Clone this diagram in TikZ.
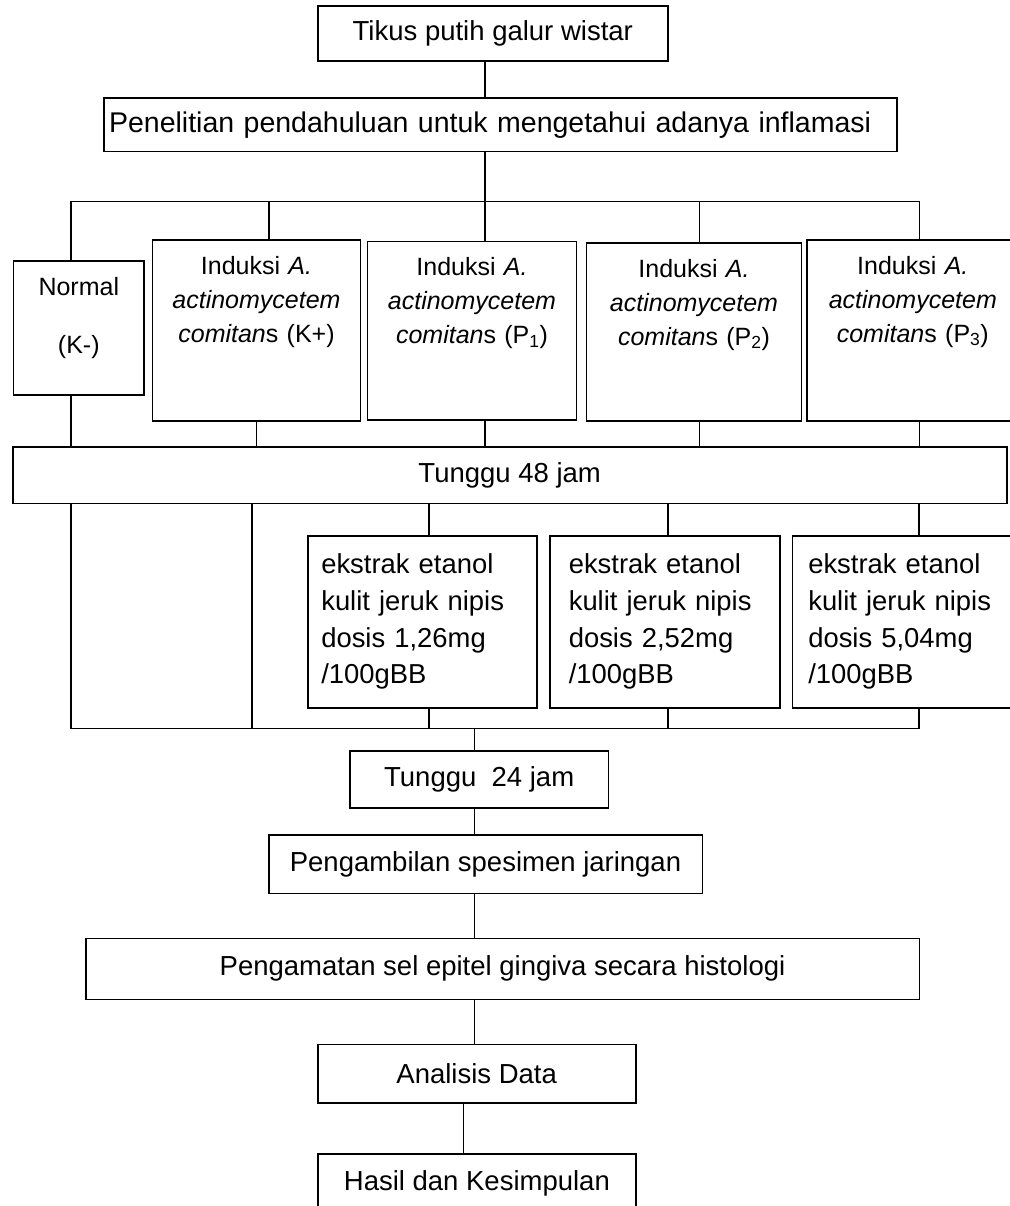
\documentclass[tikz,border=0pt]{standalone}
\usepackage{fontspec}
\setmainfont{Liberation Sans}
\usepackage{tikz}
\tikzstyle{block} = [rectangle, 
draw=black, 
line width=1.6pt,
inner sep=0pt,
text centered, 
font=\fontsize{27.5}{33}\selectfont]
\tikzstyle{group} = [rectangle, 
draw=black, 
line width=1.6pt,
anchor=north west,
inner sep=0pt,
align=center, 
text height=34pt,
font=\fontsize{25}{34}\selectfont]
\tikzstyle{dose} = [rectangle, 
draw=black, 
line width=1.6pt,
anchor=north west,
inner xsep=16pt, 
inner ysep=0pt,
align=left, 
text height=38pt,
text depth=134pt,
font=\fontsize{27.4}{36.7}\selectfont]
\tikzstyle{line} = [line width=1.6pt, line cap=rect]

\begin{document}
\begin{tikzpicture}[x=1pt, y=-1pt]
\useasboundingbox (0,0) rectangle (1009,1206);

\node (tikus) [block, minimum width=350pt, minimum height=55pt] at (492.8,33.5) {Tikus putih galur wistar};
\node (pen) [block, minimum width=792.7pt, minimum height=53.4pt, text width=782.7pt, inner xsep=5pt, align=left, font=\fontsize{28.5}{33}\selectfont] at (500.4,125) {Penelitian pendahuluan untuk mengetahui adanya inflamasi};

% groups
\node (normal) [group, text width=130.6pt, text height=34.5pt, text depth=99.5pt] at (12.7,260) {Normal\\[24.5pt](K-)};
\node (kplus) [group, text width=208pt, text depth=146.7pt] at (151.7,239.3) {Induksi \textit{A.}\\ \textit{actinomycetem}\\ \textit{comitan}s (K+)};
\node (pone) [group, text width=209pt, text depth=144.3pt] at (366.7,240.7) {Induksi \textit{A.}\\ \textit{actinomycetem}\\ \textit{comitan}s (P\textsubscript{1})};
\node (ptwo) [group, text width=215pt, text depth=143.7pt] at (585.7,242.3) {Induksi \textit{A.}\\ \textit{actinomycetem}\\ \textit{comitan}s (P\textsubscript{2})};
\node (pthree) [group, text width=212pt, text depth=146.7pt] at (806,239.3) {Induksi \textit{A.}\\ \textit{actinomycetem}\\ \textit{comitan}s (P\textsubscript{3})};

\node (wait48) [block, minimum width=994pt, minimum height=56.3pt] at (509.7,475.2) {Tunggu 48 jam};

% extract doses
\node (doseone) [dose, text width=202pt, inner xsep=13.5pt] at (307,535) {ekstrak etanol\\ kulit jeruk nipis\\ dosis 1,26mg\\ /100gBB};
\node (dosetwo) [dose, text width=192.3pt, inner xsep=19pt] at (549,535) {ekstrak etanol\\ kulit jeruk nipis\\ dosis 2,52mg\\ /100gBB};
\node (dosethree) [dose, text width=198.5pt] at (791.5,535) {ekstrak etanol\\ kulit jeruk nipis\\ dosis 5,04mg\\ /100gBB};

\node (wait24) [block, minimum width=258.3pt, minimum height=57pt] at (479.2,779.2) {Tunggu\ \ 24 jam};
\node (ambil) [block, minimum width=433.6pt, minimum height=58.3pt] at (485.5,864.2) {Pengambilan spesimen jaringan};
\node (amati) [block, minimum width=833.6pt, minimum height=61pt] at (502.5,968.8) {Pengamatan sel epitel gingiva secara histologi};
\node (analisis) [block, minimum width=318pt, minimum height=58.4pt] at (476.7,1073.5) {Analisis Data};
\node (hasil) [block, minimum width=317.7pt, minimum height=58.7pt] at (476.9,1183.4) {Hasil dan Kesimpulan};

% taps on the branch lines
\coordinate (tapN) at (70.7,201.7);
\coordinate (tapK) at (268.7,201.7);
\coordinate (trunk) at (484.7,201.7);
\coordinate (tapP2) at (699.3,201.7);
\coordinate (tapP3) at (919.3,201.7);
\coordinate (joinN) at (71,728.3);
\coordinate (joinK) at (252,728.3);
\coordinate (joinE1) at (429.2,728.3);
\coordinate (trunkB) at (474.3,728.3);
\coordinate (joinE2) at (668,728.3);
\coordinate (joinE3) at (919,728.3);

\draw [line] (trunk |- tikus.south) -- (trunk |- pen.north);
\draw [line] (trunk |- pen.south) -- (trunk |- pone.north);
\draw [line] (tapN |- normal.north) -- (tapN) -- (tapP3) -- (tapP3 |- pthree.north);
\draw [line] (tapK) -- (tapK |- kplus.north);
\draw [line] (tapP2) -- (tapP2 |- ptwo.north);

\draw [line] (tapN |- normal.south) -- (tapN |- wait48.north);
\draw [line] (kplus.south) -- (kplus.south |- wait48.north);
\draw [line] (trunk |- pone.south) -- (trunk |- wait48.north);
\draw [line] (tapP2 |- ptwo.south) -- (tapP2 |- wait48.north);
\draw [line] (tapP3 |- pthree.south) -- (tapP3 |- wait48.north);

\draw [line] (joinN |- wait48.south) -- (joinN) -- (joinE3) -- (joinE3 |- dosethree.south);
\draw [line] (joinK |- wait48.south) -- (joinK);
\draw [line] (joinE1 |- wait48.south) -- (joinE1 |- doseone.north);
\draw [line] (joinE1 |- doseone.south) -- (joinE1);
\draw [line] (joinE2 |- wait48.south) -- (joinE2 |- dosetwo.north);
\draw [line] (joinE2 |- dosetwo.south) -- (joinE2);
\draw [line] (joinE3 |- wait48.south) -- (joinE3 |- dosethree.north);

\draw [line] (trunkB) -- (trunkB |- wait24.north);
\draw [line] (trunkB |- wait24.south) -- (trunkB |- ambil.north);
\draw [line] (trunkB |- ambil.south) -- (trunkB |- amati.north);
\draw [line] (trunkB |- amati.south) -- (trunkB |- analisis.north);
\draw [line] ([xshift=-13.4pt]analisis.south) -- ([xshift=-13.4pt]analisis.south |- hasil.north);

\end{tikzpicture}
\end{document}
